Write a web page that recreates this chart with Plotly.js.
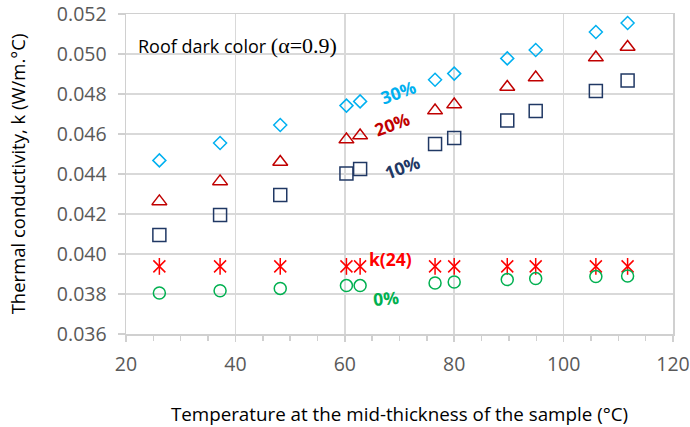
<!DOCTYPE html>
<html>
<head>
<meta charset="utf-8">
<script src="https://cdn.plot.ly/plotly-3.0.1.min.js"></script>
<style>html,body{margin:0;padding:0;background:#fff;}#chart{width:690px;height:427px;}</style>
</head>
<body>
<div id="chart"></div>
<script>
// Temperature at mid-thickness (°C)
const temperature = [26.1, 37.2, 48.2, 60.3, 62.8, 76.5, 80.0, 89.7, 94.9, 105.9, 111.7];
// Thermal conductivity (W/m.°C) by moisture content
const k30 = [0.04468, 0.04555, 0.04645, 0.04742, 0.04763, 0.04871, 0.04902, 0.04978, 0.05020, 0.05110, 0.05155];
const k20 = [0.04263, 0.04363, 0.04460, 0.04572, 0.04592, 0.04717, 0.04747, 0.04835, 0.04882, 0.04982, 0.05035];
const k10 = [0.04095, 0.04195, 0.04295, 0.04402, 0.04425, 0.04550, 0.04580, 0.04668, 0.04715, 0.04815, 0.04868];
const k24 = [0.03938, 0.03938, 0.03938, 0.03938, 0.03938, 0.03938, 0.03938, 0.03938, 0.03938, 0.03938, 0.03938];
const k0  = [0.03805, 0.03816, 0.03828, 0.03842, 0.03842, 0.03855, 0.03860, 0.03872, 0.03877, 0.03887, 0.03890];
const seriesNames = ['30%', '20%', '10%', 'k(24)', '0%'];

const FONT = 'Open Sans, Lato, sans-serif';

function pts(name, y, symbol, color, size) {
  return {
    type: 'scatter', mode: 'markers', name: name,
    x: temperature, y: y,
    marker: {symbol: symbol, size: size, color: color, line: {color: color, width: 1.5}},
    showlegend: false, cliponaxis: false
  };
}

const traces = [
  pts(seriesNames[0], k30, 'diamond-open', '#00b0f0', 10),
  pts(seriesNames[1], k20, 'triangle-up-open', '#c00000', 13),
  pts(seriesNames[2], k10, 'square-open', '#203864', 13),
  pts(seriesNames[3], k24, 'x-thin-open', '#ff0000', 12),
  pts(seriesNames[3], k24, 'line-ns-open', '#ff0000', 12),
  pts(seriesNames[4], k0, 'circle-open', '#00b050', 12)
];

function lbl(text, x, y, color, angle) {
  return {text: '<b>' + text + '</b>', x: x, y: y, xref: 'x', yref: 'y', showarrow: false,
          textangle: angle, font: {family: FONT, size: 17.5, color: color}};
}

const layout = {
  width: 690, height: 427,
  margin: {l: 126, r: 17, t: 14, b: 93},
  paper_bgcolor: '#ffffff', plot_bgcolor: '#ffffff',
  showlegend: false,
  font: {family: FONT, size: 19, color: '#595959'},
  xaxis: {
    range: [20, 120], dtick: 20, tick0: 20,
    showgrid: true, gridcolor: '#d9d9d9', gridwidth: 1.5,
    showline: true, linecolor: '#d0d0d0', linewidth: 1.5, mirror: true,
    ticks: 'outside', ticklen: 6, tickcolor: '#d0d0d0', tickwidth: 1.5,
    ticklabelstandoff: 6, ticklabeloverflow: 'allow',
    minor: {dtick: 5, ticks: 'outside', ticklen: 5, tickcolor: '#d0d0d0', tickwidth: 1.5, showgrid: false},
    zeroline: false,
    tickfont: {family: FONT, size: 19.5, color: '#595959'},
    title: {text: 'Temperature at the mid-thickness of the sample (°C)', standoff: 36,
            font: {family: FONT, size: 18.8, color: '#000000'}}
  },
  yaxis: {
    range: [0.036, 0.052], dtick: 0.002, tick0: 0.036, tickformat: '.3f',
    showgrid: true, gridcolor: '#d9d9d9', gridwidth: 1.5,
    showline: true, linecolor: '#d0d0d0', linewidth: 1.5, mirror: true,
    ticks: 'outside', ticklen: 7, tickcolor: '#d0d0d0', tickwidth: 1.5,
    ticklabelstandoff: 7, ticklabeloverflow: 'allow',
    zeroline: false,
    tickfont: {family: FONT, size: 19.5, color: '#595959'},
    title: {text: 'Thermal conductivity, k (W/m.°C)', standoff: 26,
            font: {family: FONT, size: 18.5, color: '#000000'}}
  },
  annotations: [
    {text: 'Roof dark color <span style="font-family:Liberation Serif, DejaVu Serif, serif;font-size:22px">(α=0.9)</span>',
     x: 21.9, y: 0.05045, xref: 'x', yref: 'y', xanchor: 'left', showarrow: false,
     font: {family: FONT, size: 18, color: '#000000'}},
    lbl(seriesNames[0], 69.7, 0.04812, '#00b0f0', -20),
    lbl(seriesNames[1], 68.6, 0.04651, '#c00000', -20),
    lbl(seriesNames[2], 70.5, 0.04437, '#1f3864', -20),
    lbl(seriesNames[3], 68.4, 0.03977, '#ff0000', 0),
    lbl(seriesNames[4], 67.5, 0.03782, '#00b050', -5)
  ]
};

Plotly.newPlot('chart', traces, layout, {displayModeBar: false, staticPlot: true});
</script>
</body>
</html>
